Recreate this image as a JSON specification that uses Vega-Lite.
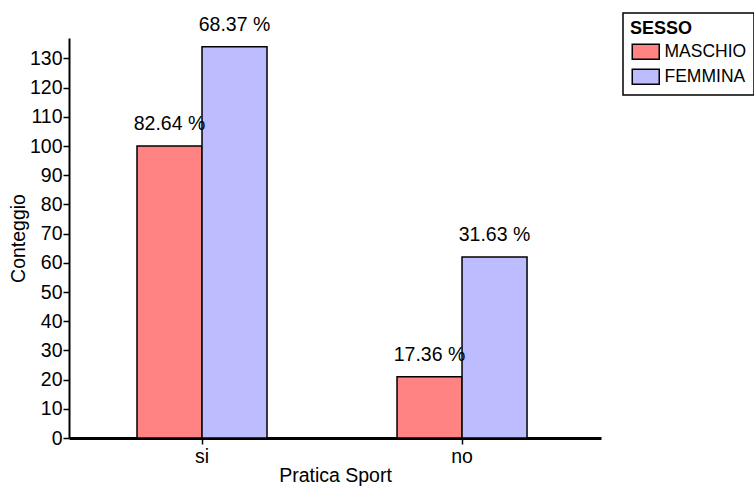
{
  "$schema": "https://vega.github.io/schema/vega-lite/v6.json",
  "width": 532,
  "height": 400,
  "autosize": {"type": "none"},
  "padding": {"left": 69, "top": 38, "right": 153, "bottom": 52},
  "background": "white",
  "config": {
    "view": {"stroke": null},
    "font": "Liberation Sans",
    "legend": {
      "orient": "none",
      "legendX": 554,
      "legendY": -25,
      "strokeColor": "black",
      "strokeWidth": 1.5,
      "fillColor": "white",
      "padding": 7,
      "cornerRadius": 0,
      "titleFontSize": 18,
      "titleFontWeight": "bold",
      "titleColor": "black",
      "titlePadding": 5,
      "labelFontSize": 17.5,
      "labelColor": "black",
      "labelOffset": 10,
      "rowPadding": 3,
      "symbolType": "M-1.8,-1H1.8V1H-1.8Z",
      "symbolSize": 225,
      "symbolOffset": 7,
      "symbolStrokeColor": "black",
      "symbolStrokeWidth": 1.5,
      "symbolOpacity": 1
    }
  },
  "data": {
    "values": [
      {"sport": "si", "sesso": "MASCHIO", "conteggio": 100, "percentuale": "82.64 %"},
      {"sport": "si", "sesso": "FEMMINA", "conteggio": 134, "percentuale": "68.37 %"},
      {"sport": "no", "sesso": "MASCHIO", "conteggio": 21, "percentuale": "17.36 %"},
      {"sport": "no", "sesso": "FEMMINA", "conteggio": 62, "percentuale": "31.63 %"}
    ]
  },
  "encoding": {
    "x": {
      "field": "sport",
      "type": "nominal",
      "sort": ["si", "no"],
      "scale": {"paddingInner": 0.5, "paddingOuter": 0.273, "align": 0.479},
      "title": "Pratica Sport",
      "axis": {
        "labelAngle": 0,
        "labelFontSize": 19.5,
        "labelColor": "black",
        "labelPadding": 3,
        "domainColor": "black",
        "domainWidth": 3,
        "tickColor": "black",
        "tickWidth": 1.5,
        "tickSize": 6,
        "titleFontSize": 19.5,
        "titleFontWeight": "normal",
        "titleColor": "black",
        "titlePadding": 1
      }
    },
    "xOffset": {
      "field": "sesso",
      "sort": ["MASCHIO", "FEMMINA"],
      "scale": {"paddingInner": 0, "paddingOuter": 0}
    },
    "y": {
      "field": "conteggio",
      "type": "quantitative",
      "scale": {"domain": [0, 137], "nice": false},
      "title": "Conteggio",
      "axis": {
        "values": [0, 10, 20, 30, 40, 50, 60, 70, 80, 90, 100, 110, 120, 130],
        "grid": false,
        "labelFontSize": 19.5,
        "labelColor": "black",
        "labelPadding": 1,
        "domainColor": "black",
        "domainWidth": 2,
        "tickColor": "black",
        "tickWidth": 1.5,
        "tickSize": 6,
        "titleFontSize": 19.5,
        "titleFontWeight": "normal",
        "titleColor": "black",
        "titlePadding": 1
      }
    }
  },
  "layer": [
    {
      "mark": {"type": "bar", "stroke": "black", "strokeWidth": 1.5},
      "encoding": {
        "color": {
          "field": "sesso",
          "type": "nominal",
          "sort": ["MASCHIO", "FEMMINA"],
          "scale": {"domain": ["MASCHIO", "FEMMINA"], "range": ["#ff8383", "#bcbcff"]},
          "title": "SESSO"
        }
      }
    },
    {
      "mark": {"type": "text", "baseline": "bottom", "dy": -12, "fontSize": 19.5, "color": "black"},
      "encoding": {
        "text": {"field": "percentuale"}
      }
    }
  ]
}
